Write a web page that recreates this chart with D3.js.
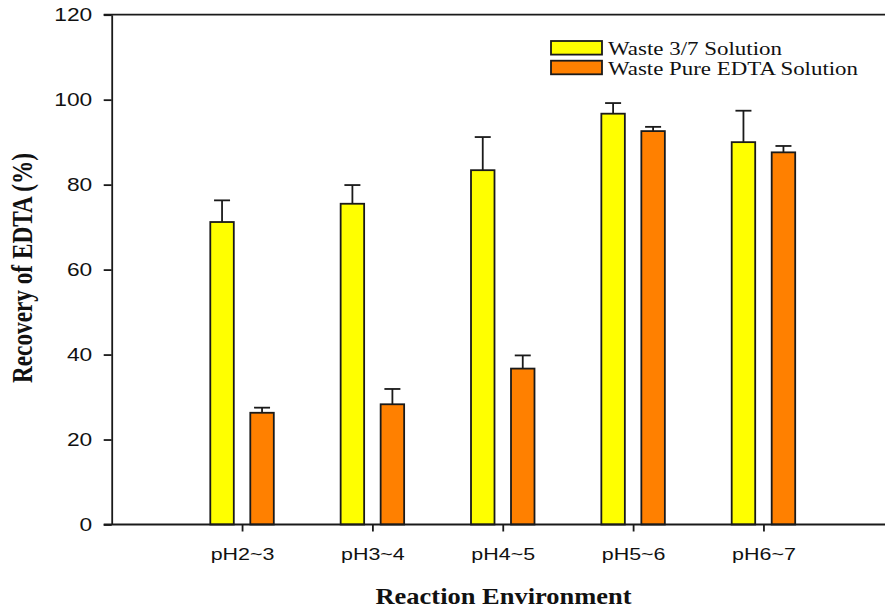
<!DOCTYPE html>
<html>
<head>
<meta charset="utf-8">
<script src="https://cdn.jsdelivr.net/npm/d3@7"></script>
<style>
  html, body { margin: 0; padding: 0; background: #fff; }
  svg { display: block; }
</style>
</head>
<body>
<svg id="chart" width="885" height="610"></svg>
<script>
// ---- data ----
const categories = ["pH2~3", "pH3~4", "pH4~5", "pH5~6", "pH6~7"];
const seriesNames = ["Waste 3/7 Solution", "Waste Pure EDTA Solution"];
const waste37 = [71.2, 75.5, 83.4, 96.7, 90.0];
const waste37Err = [5.1, 4.4, 7.8, 2.5, 7.4];
const wastePure = [26.3, 28.3, 36.7, 92.6, 87.6];
const wastePureErr = [1.2, 3.6, 3.1, 1.0, 1.5];
const yTicks = [0, 20, 40, 60, 80, 100, 120];
const colors = ["#FFFF00", "#FF8000"];

// ---- layout ----
const plotLeft = 111.7, plotTop = 14.7, plotBottom = 524.5, catStep = 130.35;
const svg = d3.select("#chart");

const y = d3.scaleLinear().domain([0, 120]).range([plotBottom, plotTop]);
const x = d3.scaleLinear().domain([0, 6]).range([plotLeft, plotLeft + 6 * catStep]);
const xSub = d3.scaleBand().domain([0, 1]).range([-31.75, 31.75]).paddingInner(0.4125);

const series = [
  { name: seriesNames[0], values: waste37, errs: waste37Err, color: colors[0] },
  { name: seriesNames[1], values: wastePure, errs: wastePureErr, color: colors[1] }
];

// bars
const g = svg.append("g");
series.forEach((s, si) => {
  const grp = g.append("g");
  grp.selectAll("rect").data(s.values).join("rect")
    .attr("x", (d, i) => x(i + 1) + xSub(si))
    .attr("y", d => y(d))
    .attr("width", xSub.bandwidth())
    .attr("height", d => y(0) - y(d))
    .attr("fill", s.color)
    .attr("stroke", "#1a1a1a")
    .attr("stroke-width", 1.8);
  const cx = i => x(i + 1) + xSub(si) + xSub.bandwidth() / 2;
  const eb = grp.selectAll("g.err").data(s.values).join("g").attr("class", "err");
  eb.append("line")
    .attr("x1", (d, i) => cx(i))
    .attr("x2", (d, i) => cx(i))
    .attr("y1", d => y(d))
    .attr("y2", (d, i) => y(d + s.errs[i]))
    .attr("stroke", "#1a1a1a").attr("stroke-width", 1.8);
  eb.append("line")
    .attr("x1", (d, i) => cx(i) - 8)
    .attr("x2", (d, i) => cx(i) + 8)
    .attr("y1", (d, i) => y(d + s.errs[i]))
    .attr("y2", (d, i) => y(d + s.errs[i]))
    .attr("stroke", "#1a1a1a").attr("stroke-width", 1.8);
});

// y axis
const yAxis = svg.append("g")
  .attr("transform", `translate(${plotLeft},0)`)
  .call(d3.axisLeft(y).tickValues(yTicks).tickSize(8).tickPadding(7).tickSizeOuter(0));
yAxis.select(".domain").attr("stroke", "#1a1a1a").attr("stroke-width", 1.8);
yAxis.selectAll(".tick line").attr("stroke", "#1a1a1a").attr("stroke-width", 1.8);
yAxis.selectAll(".tick text")
  .attr("font-family", "'Liberation Sans', Arial, sans-serif")
  .attr("font-size", 17.5)
  .attr("fill", "#111")
  .attr("transform", "scale(1.3,1)");

// x axis
const xAxis = svg.append("g")
  .attr("transform", `translate(0,${plotBottom})`)
  .call(d3.axisBottom(x).tickValues(d3.range(1, categories.length + 1))
    .tickFormat(d => categories[d - 1]).tickSize(7).tickPadding(17).tickSizeOuter(0));
xAxis.select(".domain").attr("stroke", "#1a1a1a").attr("stroke-width", 1.8)
  .attr("d", `M${plotLeft - 8},0H${plotLeft + 6 * catStep}`);
xAxis.selectAll(".tick line").attr("stroke", "#1a1a1a").attr("stroke-width", 1.8);
xAxis.selectAll(".tick text")
  .attr("font-family", "'Liberation Sans', Arial, sans-serif")
  .attr("font-size", 16.5)
  .attr("fill", "#111")
  .attr("transform", "scale(1.3,1)");

// top border line
svg.append("line")
  .attr("x1", plotLeft - 8).attr("x2", plotLeft + 6 * catStep)
  .attr("y1", y(120)).attr("y2", y(120))
  .attr("stroke", "#1a1a1a").attr("stroke-width", 1.8);

// axis titles
svg.append("text")
  .attr("transform", "translate(503.5,604)")
  .attr("text-anchor", "middle")
  .attr("font-family", "'Liberation Serif', 'Times New Roman', serif")
  .attr("font-weight", "bold")
  .attr("font-size", 23)
  .attr("textLength", 256)
  .attr("lengthAdjust", "spacingAndGlyphs")
  .attr("fill", "#111")
  .text("Reaction Environment");

svg.append("text")
  .attr("transform", "translate(32,268) rotate(-90) scale(1,1.3)")
  .attr("text-anchor", "middle")
  .attr("font-family", "'Liberation Serif', 'Times New Roman', serif")
  .attr("font-weight", "bold")
  .attr("font-size", 23)
  .attr("textLength", 230)
  .attr("lengthAdjust", "spacingAndGlyphs")
  .attr("fill", "#111")
  .text("Recovery of EDTA (%)");

// legend
const legendW = [174, 250];
const legend = svg.append("g");
series.forEach((s, si) => {
  const ly = 41 + si * 19.7;
  legend.append("rect")
    .attr("x", 551).attr("y", ly).attr("width", 51).attr("height", 13.6)
    .attr("fill", s.color).attr("stroke", "#1a1a1a").attr("stroke-width", 1.8);
  legend.append("text")
    .attr("x", 608).attr("y", ly + 14)
    .attr("font-family", "'Liberation Serif', 'Times New Roman', serif")
    .attr("font-size", 18.5)
    .attr("textLength", legendW[si])
    .attr("lengthAdjust", "spacingAndGlyphs")
    .attr("fill", "#111")
    .text(s.name);
});
</script>
</body>
</html>
